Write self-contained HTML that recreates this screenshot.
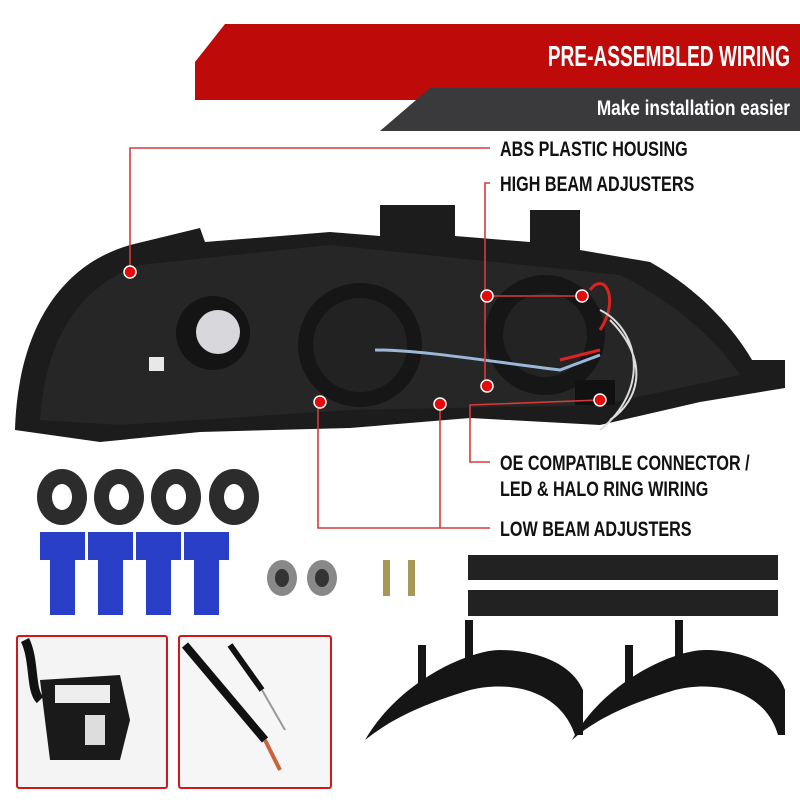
<!DOCTYPE html>
<html><head><meta charset="utf-8"><style>
html,body{margin:0;padding:0;background:#fff}
svg text{font-family:"Liberation Sans Narrow","Liberation Sans",sans-serif;font-weight:bold}
</style></head><body>
<svg width="800" height="800" viewBox="0 0 800 800" xmlns="http://www.w3.org/2000/svg">
<rect width="800" height="800" fill="#fff"/>
<!-- banner -->
<polygon points="225,24 800,24 800,100 195,100 195,62" fill="#bf0a0a"/>
<polygon points="430,88 800,88 800,131 380,131" fill="#3a3a3c"/>
<text x="790" y="66" font-size="29" fill="#fff" text-anchor="end" transform="translate(790,0) scale(0.66,1) translate(-790,0)">PRE-ASSEMBLED WIRING</text>
<text x="790" y="115" font-size="21" fill="#fff" text-anchor="end" font-weight="normal" transform="translate(790,0) scale(0.82,1) translate(-790,0)">Make installation easier</text>

<!-- headlight -->
<path d="M15,430 C18,330 60,265 130,245 L200,228 L205,242 L330,232 L380,236 L380,205 L455,205 L455,236 L530,242 L530,210 L580,210 L580,250 L650,262 C700,290 735,330 752,360 L785,360 L785,388 L700,402 L600,425 L470,418 L350,428 L200,432 L100,442 Z" fill="#1c1c1c"/>
<path d="M40,420 C45,340 80,285 140,265 L330,245 L620,275 C680,305 720,345 740,375 L600,405 L350,410 L120,425 Z" fill="#262626"/>
<circle cx="213" cy="333" r="37" fill="#141414"/>
<circle cx="218" cy="332" r="22" fill="#d8d8dc"/>
<circle cx="360" cy="345" r="62" fill="#161616"/>
<circle cx="360" cy="345" r="47" fill="#222"/>
<circle cx="545" cy="335" r="60" fill="#161616"/>
<circle cx="545" cy="335" r="42" fill="#232323"/>
<rect x="149" y="357" width="15" height="14" fill="#e8e8e8"/>
<path d="M375,350 C420,350 480,360 560,370 L600,355" stroke="#9bb8d8" stroke-width="3" fill="none"/>
<path d="M560,360 L600,350 M590,290 C605,270 620,300 600,330" stroke="#d22" stroke-width="3" fill="none"/>
<path d="M600,310 C640,330 650,390 600,430 M610,320 C650,360 640,400 610,420" stroke="#ddd" stroke-width="2" fill="none"/>
<rect x="575" y="380" width="40" height="25" fill="#111"/>

<!-- callouts -->
<g stroke="#d63a3a" stroke-width="1.6" fill="none">
<polyline points="130,272 130,148 490,148"/>
<polyline points="490,183 485,183 485,382"/>
<line x1="487" y1="296" x2="582" y2="296"/>
<polyline points="600,400 470,405 470,462 490,462"/>
<polyline points="318,402 318,528 490,528"/>
<line x1="440" y1="404" x2="440" y2="528"/>
</g>
<g fill="#e50b0b" stroke="#fff" stroke-width="1.5">
<circle cx="130" cy="272" r="6"/><circle cx="487" cy="296" r="6"/><circle cx="582" cy="296" r="6"/>
<circle cx="487" cy="386" r="6"/><circle cx="600" cy="400" r="6"/><circle cx="320" cy="402" r="6"/><circle cx="440" cy="404" r="6"/>
</g>
<g font-size="21" fill="#111">
<text x="500" y="156" transform="translate(500,0) scale(0.77,1) translate(-500,0)">ABS PLASTIC HOUSING</text>
<text x="500" y="191" transform="translate(500,0) scale(0.77,1) translate(-500,0)">HIGH BEAM ADJUSTERS</text>
<text x="500" y="470" transform="translate(500,0) scale(0.77,1) translate(-500,0)">OE COMPATIBLE CONNECTOR /</text>
<text x="500" y="496" transform="translate(500,0) scale(0.77,1) translate(-500,0)">LED &amp; HALO RING WIRING</text>
<text x="500" y="536" transform="translate(500,0) scale(0.77,1) translate(-500,0)">LOW BEAM ADJUSTERS</text>
</g>

<!-- washers -->
<g fill="#2c2c2c"><ellipse cx="62" cy="497" rx="25" ry="28"/><ellipse cx="119" cy="497" rx="25" ry="28"/><ellipse cx="176" cy="497" rx="25" ry="28"/><ellipse cx="234" cy="497" rx="25" ry="28"/></g>
<g fill="#fff"><ellipse cx="62" cy="497" rx="10" ry="13"/><ellipse cx="119" cy="497" rx="10" ry="13"/><ellipse cx="176" cy="497" rx="10" ry="13"/><ellipse cx="234" cy="497" rx="10" ry="13"/></g>
<!-- blue connectors -->
<g fill="#2a3fc8">
<rect x="40" y="532" width="45" height="28"/><rect x="50" y="555" width="25" height="60"/>
<rect x="88" y="532" width="45" height="28"/><rect x="98" y="555" width="25" height="60"/>
<rect x="136" y="532" width="45" height="28"/><rect x="146" y="555" width="25" height="60"/>
<rect x="184" y="532" width="45" height="28"/><rect x="194" y="555" width="25" height="60"/>
</g>
<!-- nuts & screws -->
<ellipse cx="282" cy="578" rx="15" ry="18" fill="#888"/><ellipse cx="282" cy="578" rx="7" ry="9" fill="#333"/>
<ellipse cx="322" cy="578" rx="15" ry="18" fill="#888"/><ellipse cx="322" cy="578" rx="7" ry="9" fill="#333"/>
<rect x="383" y="560" width="7" height="36" fill="#a89858"/><rect x="408" y="560" width="7" height="36" fill="#a89858"/>
<!-- strips -->
<rect x="468" y="555" width="310" height="25" fill="#222"/>
<rect x="468" y="590" width="310" height="26" fill="#222"/>
<!-- brackets -->
<path d="M365,740 C400,680 470,650 500,650 C530,650 570,660 583,690 L583,735 L575,735 C560,690 510,680 470,690 C420,705 390,720 365,740 Z" fill="#151515"/>
<rect x="418" y="645" width="8" height="45" fill="#151515"/><rect x="465" y="620" width="8" height="45" fill="#151515"/>
<path d="M572,740 C605,680 675,650 705,650 C735,650 775,660 785,690 L785,735 L778,735 C765,690 715,680 675,690 C625,705 595,720 572,740 Z" fill="#151515"/>
<rect x="625" y="645" width="8" height="45" fill="#151515"/><rect x="675" y="620" width="8" height="45" fill="#151515"/>
<!-- photo boxes -->
<rect x="17" y="636" width="150" height="152" fill="#f4f4f4" stroke="#d01818" stroke-width="2" rx="2"/>
<path d="M25,640 C35,660 30,690 40,700" stroke="#111" stroke-width="9" fill="none"/>
<path d="M40,680 L120,675 L130,720 L120,760 L50,760 Z" fill="#1a1a1a"/>
<rect x="55" y="685" width="55" height="18" fill="#eee"/>
<rect x="85" y="715" width="20" height="30" fill="#ddd"/>
<rect x="179" y="636" width="152" height="152" fill="#f6f6f6" stroke="#d01818" stroke-width="2" rx="2"/>
<path d="M185,645 L265,740" stroke="#111" stroke-width="8" fill="none"/>
<path d="M230,645 L262,690" stroke="#111" stroke-width="6" fill="none"/>
<path d="M265,740 L280,770" stroke="#c8643c" stroke-width="4" fill="none"/>
<path d="M262,690 L285,730" stroke="#999" stroke-width="2" fill="none"/>
</svg>
</body></html>
